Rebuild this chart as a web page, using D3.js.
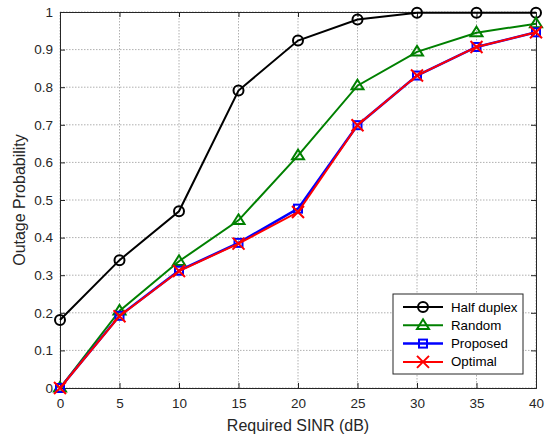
<!DOCTYPE html>
<html>
<head>
<meta charset="utf-8">
<script src="https://cdn.jsdelivr.net/npm/d3@7"></script>
<style>
body { margin: 0; background: #fff; }
text { font-family: "Liberation Sans", Arial, sans-serif; }
</style>
</head>
<body>
<svg id="chart"></svg>
<script>
// values
var sinr = [0, 5, 10, 15, 20, 25, 30, 35, 40];
var halfDuplex = [0.181, 0.34, 0.47, 0.791, 0.924, 0.98, 0.998, 0.998, 0.998];
var random = [0, 0.205, 0.337, 0.446, 0.618, 0.804, 0.894, 0.945, 0.969];
var proposed = [0, 0.192, 0.312, 0.386, 0.477, 0.699, 0.831, 0.907, 0.946];
var optimal = [0, 0.191, 0.311, 0.384, 0.468, 0.699, 0.831, 0.907, 0.946];
var xTicks = [0, 5, 10, 15, 20, 25, 30, 35, 40];
var yTicks = [0, 0.1, 0.2, 0.3, 0.4, 0.5, 0.6, 0.7, 0.8, 0.9, 1];

var screen = {width: 548, height: 440}
var margins = {top: 12, right: 12, bottom: 52, left: 60}
var width = screen.width - margins.left - margins.right;
var height = screen.height - margins.top - margins.bottom;

var svg = d3.select("#chart")
    .attr("width", screen.width)
    .attr("height", screen.height);

var g = svg.append("g")
    .attr("transform", "translate(" + margins.left + "," + margins.top + ")");

var xScale = d3.scaleLinear().domain([0, 40]).range([0, width]);
var yScale = d3.scaleLinear().domain([0, 1]).range([height, 0]);

// grid
g.selectAll(".vgrid").data(xTicks).enter().append("line")
    .attr("x1", function(d) { return xScale(d) }).attr("x2", function(d) { return xScale(d) })
    .attr("y1", 0).attr("y2", height)
    .attr("stroke", "#b0b0b0").attr("stroke-width", 1).attr("stroke-dasharray", "1.5,1.5");
g.selectAll(".hgrid").data(yTicks).enter().append("line")
    .attr("y1", function(d) { return yScale(d) }).attr("y2", function(d) { return yScale(d) })
    .attr("x1", 0).attr("x2", width)
    .attr("stroke", "#b0b0b0").attr("stroke-width", 1).attr("stroke-dasharray", "1.5,1.5");

// axes, ticks inside like matlab
var fmt = function(d) { return d3.format("~g")(d) };
g.append("g").attr("transform", "translate(0," + height + ")")
    .call(d3.axisBottom(xScale).tickValues(xTicks).tickSize(-5).tickPadding(10).tickFormat(fmt));
g.append("g")
    .call(d3.axisLeft(yScale).tickValues(yTicks).tickSize(-5).tickPadding(7).tickFormat(fmt));
g.append("g")
    .call(d3.axisTop(xScale).tickValues(xTicks).tickSize(-5).tickFormat(""));
g.append("g").attr("transform", "translate(" + width + ",0)")
    .call(d3.axisRight(yScale).tickValues(yTicks).tickSize(-5).tickFormat(""));
g.selectAll(".domain").attr("stroke", "#262626");
g.selectAll(".tick line").attr("stroke", "#262626");
g.selectAll(".tick text").attr("font-size", 13.5).attr("fill", "#262626")
    .attr("font-family", "'Liberation Sans', Arial, sans-serif");

// labels
svg.append("text").text("Required SINR (dB)")
    .attr("x", margins.left + width / 2).attr("y", 431)
    .attr("text-anchor", "middle").attr("font-size", 16).attr("fill", "#262626");
svg.append("text").text("Outage Probability")
    .attr("transform", "translate(25," + (margins.top + height / 2) + ") rotate(-90)")
    .attr("text-anchor", "middle").attr("font-size", 16).attr("fill", "#262626");

var series = [
    {name: "Half duplex", values: halfDuplex, color: "#000000", marker: "circle", w: 2},
    {name: "Random", values: random, color: "#008000", marker: "triangle", w: 2},
    {name: "Proposed", values: proposed, color: "#0000ff", marker: "square", w: 2.5},
    {name: "Optimal", values: optimal, color: "#ff0000", marker: "x", w: 2}
];

var line = d3.line()
    .x(function(d, i) { return xScale(sinr[i]) })
    .y(function(d) { return yScale(d) });

var drawMarker = function(sel, type, color, cx, cy) {
    if (type == "circle") {
        sel.append("circle").attr("cx", cx).attr("cy", cy).attr("r", 5)
            .attr("fill", "none").attr("stroke", color).attr("stroke-width", 2);
    } else if (type == "triangle") {
        var s = 6;
        sel.append("path")
            .attr("d", "M" + cx + "," + (cy - s) + "L" + (cx + s) + "," + (cy + s * 0.6) + "L" + (cx - s) + "," + (cy + s * 0.6) + "Z")
            .attr("fill", "none").attr("stroke", color).attr("stroke-width", 2);
    } else if (type == "square") {
        sel.append("rect").attr("x", cx - 4).attr("y", cy - 4).attr("width", 8).attr("height", 8)
            .attr("fill", "none").attr("stroke", color).attr("stroke-width", 2);
    } else {
        var s = 6;
        sel.append("path")
            .attr("d", "M" + (cx - s) + "," + (cy - s) + "L" + (cx + s) + "," + (cy + s) + "M" + (cx + s) + "," + (cy - s) + "L" + (cx - s) + "," + (cy + s))
            .attr("fill", "none").attr("stroke", color).attr("stroke-width", 2);
    }
}

series.forEach(function(s) {
    var sg = g.append("g");
    sg.append("path").datum(s.values).attr("d", line)
        .attr("fill", "none").attr("stroke", s.color).attr("stroke-width", s.w);
    s.values.forEach(function(v, i) {
        drawMarker(sg, s.marker, s.color, xScale(sinr[i]), yScale(v));
    });
});

// legend
var lg = svg.append("g").attr("transform", "translate(393,294)");
lg.append("rect").attr("width", 130).attr("height", 80)
    .attr("fill", "#fff").attr("stroke", "#262626").attr("stroke-width", 1);
series.forEach(function(s, i) {
    var y = 13 + i * 18.3;
    lg.append("line").attr("x1", 10).attr("x2", 50).attr("y1", y).attr("y2", y)
        .attr("stroke", s.color).attr("stroke-width", s.w);
    drawMarker(lg, s.marker, s.color, 30, y);
    lg.append("text").text(s.name).attr("x", 58).attr("y", y + 4.5)
        .attr("font-size", 13.3).attr("fill", "#000");
});
</script>
</body>
</html>
